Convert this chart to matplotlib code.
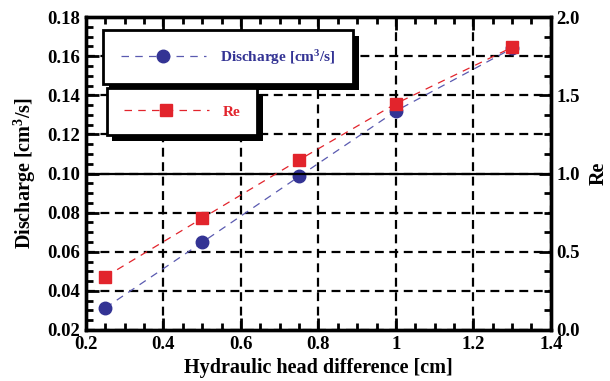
import numpy as np
import matplotlib
matplotlib.use("Agg")
import matplotlib.pyplot as plt
import matplotlib.patheffects as pe
from matplotlib.ticker import MultipleLocator

# data
head = [0.25, 0.5, 0.75, 1.0, 1.3]
discharge = [0.0313, 0.0648, 0.0985, 0.132, 0.164]
re_num = [0.34, 0.714, 1.087, 1.447, 1.807]

blue = '#333394'
red = '#e2242c'

plt.rcParams['font.family'] = 'serif'
plt.rcParams['font.serif'] = ['Liberation Serif']
plt.rcParams['font.weight'] = 'bold'
plt.rcParams['axes.labelweight'] = 'bold'
plt.rcParams['mathtext.fontset'] = 'custom'
plt.rcParams['mathtext.rm'] = 'Liberation Serif:bold'
plt.rcParams['mathtext.default'] = 'rm'

fig = plt.figure(figsize=(6.1, 3.81), dpi=100)
ax = fig.add_axes([0.141, 0.134, 0.762, 0.821])
ax2 = ax.twinx()

ax.set_xlim(0.2, 1.4)
ax.set_ylim(0.02, 0.18)
ax2.set_ylim(0.0, 2.0)

ax.xaxis.set_major_locator(MultipleLocator(0.2))
ax.xaxis.set_minor_locator(MultipleLocator(0.05))
ax.yaxis.set_major_locator(MultipleLocator(0.02))
ax.yaxis.set_minor_locator(MultipleLocator(0.005))
ax2.yaxis.set_major_locator(MultipleLocator(0.5))
ax2.yaxis.set_minor_locator(MultipleLocator(0.125))

ax.set_xticks([0.2, 0.4, 0.6, 0.8, 1.0, 1.2, 1.4])
ax.set_xticklabels(['0.2', '0.4', '0.6', '0.8', '1', '1.2', '1.4'])
ax.yaxis.set_major_formatter(plt.FormatStrFormatter('%.2f'))
ax2.yaxis.set_major_formatter(plt.FormatStrFormatter('%.1f'))

for a in (ax, ax2):
    for s in a.spines.values():
        s.set_linewidth(2.4)
ax.tick_params(which='both', direction='in', top=True, right=False, width=2, labelsize=13.5, pad=4)
ax.tick_params(which='major', length=9)
ax.tick_params(which='minor', length=5)
ax2.tick_params(which='both', direction='in', width=2, labelsize=13.5, pad=4)
ax2.tick_params(which='major', length=9)
ax2.tick_params(which='minor', length=5)

# grid
ax.grid(True, which='major', color='k', linestyle=(0, (4, 2.5)), linewidth=1.6)
ax2.axhline(1.0, color='k', linewidth=1.6, zorder=1)

ax.set_xlabel('Hydraulic head difference [cm]', fontsize=14.5, labelpad=4)
ax.set_ylabel('Discharge [cm$^3$/s]', fontsize=14.5, labelpad=7)
ax2.set_ylabel('Re', fontsize=14.5, labelpad=6)

l1, = ax.plot(head, discharge, linestyle=(0, (6, 5)), color='#5a5ab0', linewidth=0.9,
              marker='o', markersize=9, markerfacecolor=blue, markeredgecolor=blue,
              label='Discharge [cm$^3$/s]', zorder=3)
l2, = ax2.plot(head, re_num, linestyle=(0, (6, 5)), color=red, linewidth=0.9,
               marker='s', markersize=9, markerfacecolor=red, markeredgecolor=red,
               label='Re', zorder=3)

shadow = [pe.SimplePatchShadow(offset=(4, -4), shadow_rgbFace='k', alpha=1.0), pe.Normal()]

leg1 = fig.legend(handles=[l1], loc='upper left', bbox_to_anchor=(0.169, 0.921),
                  fancybox=False, edgecolor='k', framealpha=1, fontsize=11,
                  handlelength=5.6, borderpad=1.15, handletextpad=0.9, borderaxespad=0)
leg2 = fig.legend(handles=[l2], loc='upper left', bbox_to_anchor=(0.175, 0.769),
                  fancybox=False, edgecolor='k', framealpha=1, fontsize=11,
                  handlelength=5.6, borderpad=1.1, handletextpad=0.9, borderaxespad=0)
for leg, c in ((leg1, blue), (leg2, red)):
    fr = leg.get_frame()
    fr.set_linewidth(2)
    fr.set_path_effects(shadow)
    for t in leg.get_texts():
        t.set_color(c)

fig.savefig('out.png', dpi=100)
